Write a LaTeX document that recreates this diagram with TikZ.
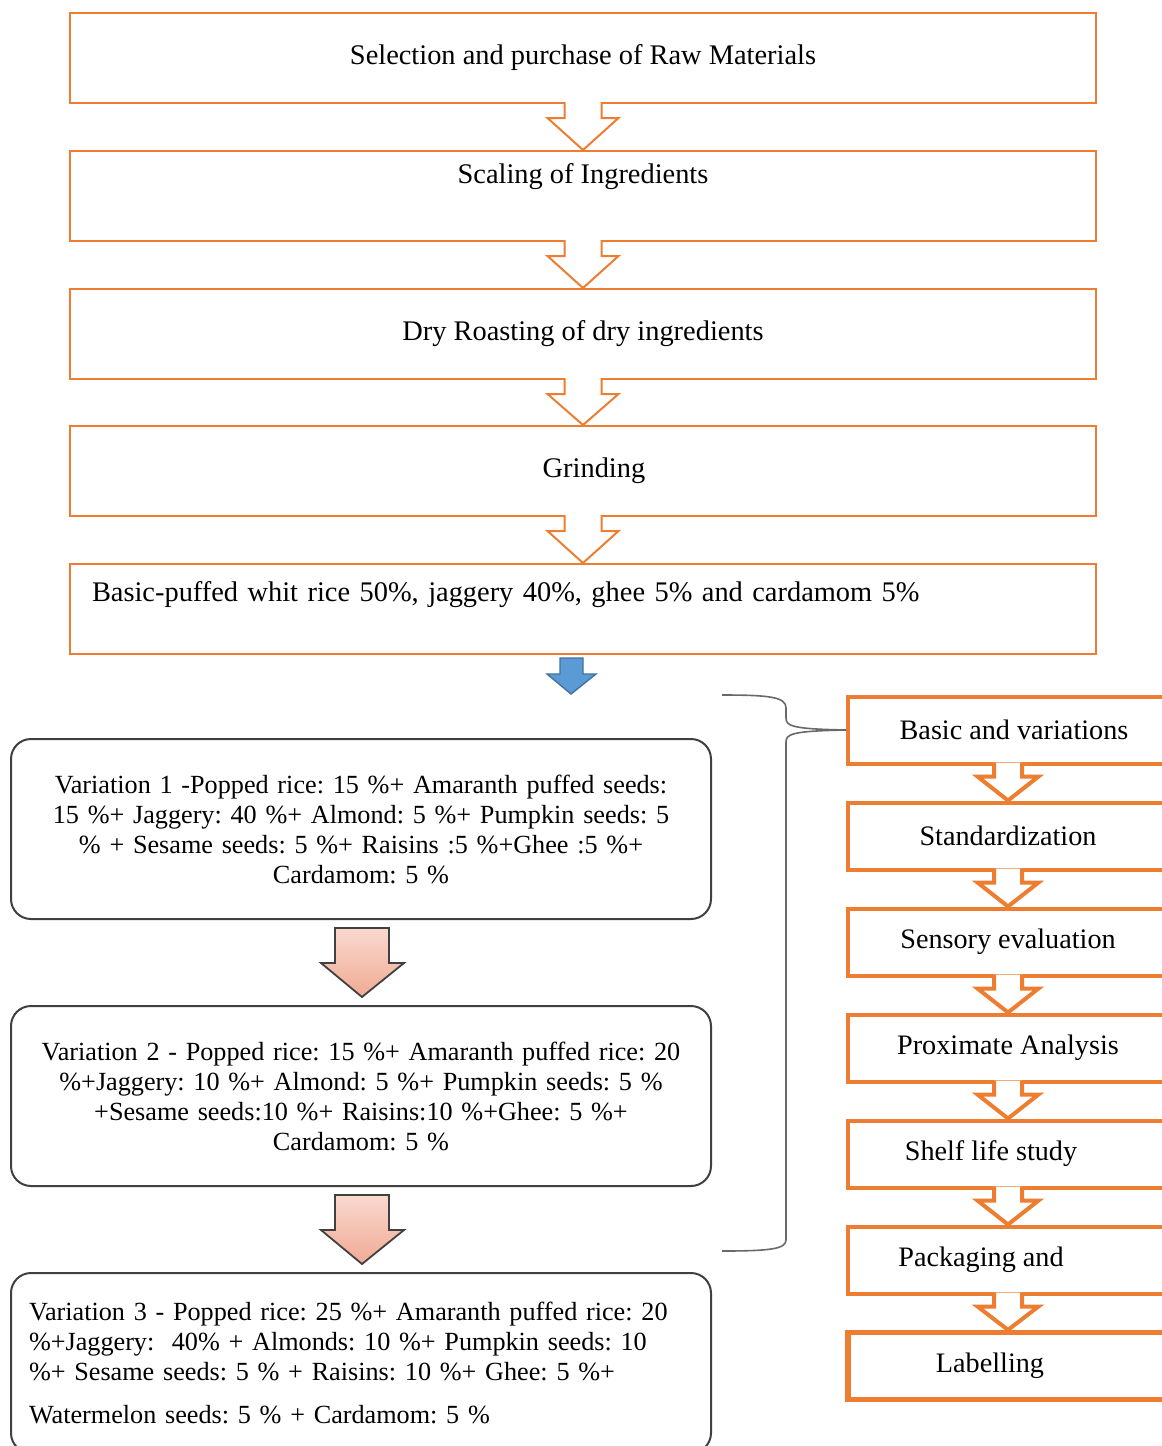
\documentclass[tikz,border=0pt]{standalone}
\usepackage{fontspec}
\setmainfont{Liberation Serif}
\usetikzlibrary{calc}
\definecolor{ssOrange}{RGB}{237,125,49}
\definecolor{ssDark}{RGB}{64,64,64}
\definecolor{ssGrey}{RGB}{105,105,105}
\definecolor{ssBlue}{RGB}{91,155,213}
\definecolor{ssBlueLine}{RGB}{65,113,156}
\definecolor{ssPink}{RGB}{241,170,148}
\frenchspacing

\begin{document}
\begin{tikzpicture}[x=0.5pt, y=-0.5pt,
    stepbox/.style={draw=ssOrange, line width=1pt, minimum width=513pt,
      minimum height=45pt, inner sep=0pt, font=\fontsize{14.2pt}{17pt}\selectfont},
    sidebox/.style={draw=ssOrange, line width=2pt, minimum width=160pt,
      minimum height=33.5pt, inner sep=0pt, font=\fontsize{14.1pt}{17pt}\selectfont},
    varbox/.style={draw=ssDark, line width=1pt, rounded corners=10pt,
      minimum width=350pt, minimum height=90pt, text width=332pt, inner xsep=9pt,
      font=\fontsize{13.1pt}{15pt}\selectfont},
    hollow/.style={draw=ssOrange, fill=white, line join=miter},
    bluearrow/.style={draw=ssBlueLine, fill=ssBlue, line width=0.7pt, line join=miter},
    pinkarrow/.style={draw=ssDark, top color=ssPink!45!white, bottom color=ssPink,
      line width=0.9pt, line join=miter},
    bracket/.style={draw=ssGrey, line width=0.8pt}]
  \useasboundingbox (0,0) rectangle (1162,1446);

  % main steps
  \node[stepbox] (b1) at (583,58) {Selection and purchase of Raw Materials};
  \node[stepbox, text depth=23pt] (b2) at (583,196) {Scaling of Ingredients};
  \node[stepbox] (b3) at (583,334) {Dry Roasting of dry ingredients};
  \node[stepbox] (b4) at (583,471) {\hspace*{11pt}Grinding};
  \node[stepbox, text width=491pt, inner xsep=11pt, align=left, text depth=18pt] (b5)
    at (583,609) {Basic-puffed whit rice 50\%, jaggery 40\%, ghee 5\% and cardamom 5\%};
  \foreach \a/\b in {b1/b2, b2/b3, b3/b4, b4/b5}
    \draw[hollow, line width=1pt] ($(\a.south)+(-18.5,-2)$) -- ($(\a.south)+(-18.5,14)$)
      -- ($(\a.south)+(-35.5,14)$) -- (\b.north) -- ($(\a.south)+(35.5,14)$)
      -- ($(\a.south)+(18.5,14)$) -- ($(\a.south)+(18.5,-2)$);

  % down to the variations
  \draw[bluearrow] ($(b5.south)+(-23,3)$) -- ($(b5.south)+(0,3)$) -- ($(b5.south)+(0,19)$)
    -- ($(b5.south)+(13,19)$) -- ($(b5.south)+(-12,39)$) -- ($(b5.south)+(-36,19)$)
    -- ($(b5.south)+(-23,19)$) -- cycle;

  % variations
  \node[varbox, align=center] (v1) at (361,829)
    {Variation 1 -Popped rice: 15 \%+ Amaranth puffed seeds:\\
     15 \%+ Jaggery: 40 \%+ Almond: 5 \%+ Pumpkin seeds: 5\\
     \% + Sesame seeds: 5 \%+ Raisins :5 \%+Ghee :5 \%+\\
     Cardamom: 5 \%};
  \node[varbox, align=center] (v2) at (361,1096)
    {Variation 2 - Popped rice: 15 \%+ Amaranth puffed rice: 20\\
     \%+Jaggery: 10 \%+ Almond: 5 \%+ Pumpkin seeds: 5 \%\\
     +Sesame seeds:10 \%+ Raisins:10 \%+Ghee: 5 \%+\\
     Cardamom: 5 \%};
  \node[varbox, align=left] (v3) at (361,1363)
    {Variation 3 - Popped rice: 25 \%+ Amaranth puffed rice: 20\\
     \%+Jaggery:\ \ 40\% + Almonds: 10 \%+ Pumpkin seeds: 10\\
     \%+ Sesame seeds: 5 \% + Raisins: 10 \%+ Ghee: 5 \%+\\[6.5pt]
     Watermelon seeds: 5 \% + Cardamom: 5 \%};
  \foreach \a/\b in {v1/v2, v2/v3}
    \draw[pinkarrow] ($(\a.south)+(-26,8)$) -- ($(\a.south)+(28,8)$) -- ($(\a.south)+(28,43)$)
      -- ($(\a.south)+(43,43)$) -- ($(\b.north)+(1,-8)$) -- ($(\a.south)+(-40,43)$)
      -- ($(\a.south)+(-26,43)$) -- cycle;

  % evaluation steps
  \node[sidebox] (r1) at (1008,730) {\hspace*{6pt}Basic and variations};
  \node[sidebox] (r2) at (1008,836) {Standardization};
  \node[sidebox] (r3) at (1008,942) {Sensory evaluation};
  \node[sidebox] (r4) at (1008,1048) {Proximate Analysis};
  \node[sidebox] (r5) at (1008,1154) {Shelf life study\hspace*{17pt}};
  \node[sidebox] (r6) at (1008,1260) {Packaging and\hspace*{27pt}};
  \node[sidebox, line width=2.6pt] (r7) at (1008,1366) {Labelling\hspace*{18pt}};
  \foreach \a/\b in {r1/r2, r2/r3, r3/r4, r4/r5, r5/r6, r6/r7}
    \draw[hollow, line width=2pt] ($(\a.south)+(-14,-3)$) -- ($(\a.south)+(-14,11)$)
      -- ($(\a.south)+(-30.5,11)$) -- (\b.north) -- ($(\a.south)+(30.5,11)$)
      -- ($(\a.south)+(14,11)$) -- ($(\a.south)+(14,-3)$);

  % brace
  \coordinate (brtop) at (722,695);
  \coordinate (brbot) at (722,1251);
  \draw[bracket] (brtop) .. controls (770,695) and (786,697) .. (786,708) -- (786,718)
    .. controls (786,726) and (792,729) .. (r1.west);
  \draw[bracket] (r1.west) .. controls (792,731) and (786,734) .. (786,742) -- (786,1240)
    .. controls (786,1249) and (770,1251) .. (brbot);
\end{tikzpicture}
\end{document}
